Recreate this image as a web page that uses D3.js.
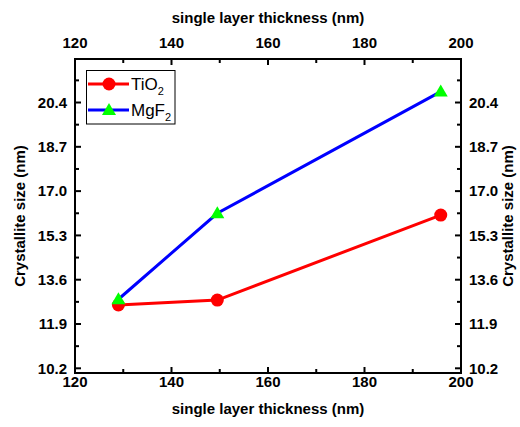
<!DOCTYPE html>
<html>
<head>
<meta charset="utf-8">
<script src="https://cdn.jsdelivr.net/npm/d3@7"></script>
<style>
  body { margin: 0; background: #fff; }
  svg text { font-family: "Liberation Sans", Arial, sans-serif; }
</style>
</head>
<body>
<svg width="520" height="427"></svg>
<script>
var thickness = [129, 149.5, 195.8];
var tio2 = [12.63, 12.82, 16.08];
var mgf2 = [12.85, 16.15, 20.82];
var yTicks = [10.2, 11.9, 13.6, 15.3, 17.0, 18.7, 20.4];
var xTicks = [120, 140, 160, 180, 200];

var svg = d3.select('svg');
var pLeft = 75, pRight = 461, pTop = 59, pBottom = 373;

var x = d3.scaleLinear().domain([120, 200]).range([pLeft, pRight]);
var y = d3.scaleLinear().domain([10.02, 22.07]).range([pBottom, pTop]);

var xMinor = d3.range(130, 200, 20);
var yMinor = d3.range(0, 7).map(i => 11.05 + i * 1.7);

// ticks point inward on all four sides
function axisTicks(g, orient) {
  var big = 6, small = 4;
  if (orient === 'bottom' || orient === 'top') {
    var y0 = orient === 'bottom' ? pBottom : pTop;
    var dir = orient === 'bottom' ? -1 : 1;
    xTicks.forEach(v => g.append('line').attr('x1', x(v)).attr('x2', x(v)).attr('y1', y0).attr('y2', y0 + dir * big));
    xMinor.forEach(v => g.append('line').attr('x1', x(v)).attr('x2', x(v)).attr('y1', y0).attr('y2', y0 + dir * small));
  } else {
    var x0 = orient === 'left' ? pLeft : pRight;
    var dir = orient === 'left' ? 1 : -1;
    yTicks.forEach(v => g.append('line').attr('y1', y(v)).attr('y2', y(v)).attr('x1', x0).attr('x2', x0 + dir * big));
    yMinor.forEach(v => g.append('line').attr('y1', y(v)).attr('y2', y(v)).attr('x1', x0).attr('x2', x0 + dir * small));
  }
}

var tg = svg.append('g').attr('stroke', '#000').attr('stroke-width', 2);
['bottom', 'top', 'left', 'right'].forEach(o => axisTicks(tg, o));

svg.append('rect')
    .attr('x', pLeft).attr('y', pTop)
    .attr('width', pRight - pLeft).attr('height', pBottom - pTop)
    .attr('fill', 'none').attr('stroke', '#000').attr('stroke-width', 2);

// tick labels
var fmt = d3.format('.1f');
xTicks.forEach(function(v) {
  svg.append('text').text(v).attr('x', x(v)).attr('y', pBottom + 9).attr('dy', '0.35em')
      .attr('text-anchor', 'middle').attr('font-weight', 'bold').attr('font-size', 15);
  svg.append('text').text(v).attr('x', x(v)).attr('y', 43).attr('dy', '0.35em')
      .attr('text-anchor', 'middle').attr('font-weight', 'bold').attr('font-size', 15);
});
yTicks.forEach(function(v) {
  svg.append('text').text(fmt(v)).attr('x', pLeft - 8).attr('y', y(v)).attr('dy', '0.35em')
      .attr('text-anchor', 'end').attr('font-weight', 'bold').attr('font-size', 15);
  svg.append('text').text(fmt(v)).attr('x', pRight + 8).attr('y', y(v)).attr('dy', '0.35em')
      .attr('text-anchor', 'start').attr('font-weight', 'bold').attr('font-size', 15);
});

// axis titles
svg.append('text').text('single layer thickness (nm)')
    .attr('x', (pLeft + pRight) / 2).attr('y', 409).attr('dy', '0.35em')
    .attr('text-anchor', 'middle').attr('font-weight', 'bold').attr('font-size', 15);
svg.append('text').text('single layer thickness (nm)')
    .attr('x', (pLeft + pRight) / 2).attr('y', 18).attr('dy', '0.35em')
    .attr('text-anchor', 'middle').attr('font-weight', 'bold').attr('font-size', 15);
svg.append('text').text('Crystallite size (nm)')
    .attr('transform', 'translate(20,' + (pTop + pBottom) / 2 + ') rotate(-90)')
    .attr('dy', '0.35em')
    .attr('text-anchor', 'middle').attr('font-weight', 'bold').attr('font-size', 15);
svg.append('text').text('Crystallite size (nm)')
    .attr('transform', 'translate(508,' + (pTop + pBottom) / 2 + ') rotate(-90)')
    .attr('dy', '0.35em')
    .attr('text-anchor', 'middle').attr('font-weight', 'bold').attr('font-size', 15);

// series
var line = d3.line().x(d => x(d[0])).y(d => y(d[1]));
var tioPts = thickness.map((t, i) => [t, tio2[i]]);
var mgPts = thickness.map((t, i) => [t, mgf2[i]]);

svg.append('path').datum(mgPts).attr('d', line)
    .attr('fill', 'none').attr('stroke', '#0000ff').attr('stroke-width', 3);
svg.append('path').datum(tioPts).attr('d', line)
    .attr('fill', 'none').attr('stroke', '#ff0000').attr('stroke-width', 3);

var tri = d3.symbol().type(d3.symbolTriangle).size(85);
svg.selectAll('circle.tio').data(tioPts).enter().append('circle')
    .attr('cx', d => x(d[0])).attr('cy', d => y(d[1])).attr('r', 6.5).attr('fill', '#ff0000');
svg.selectAll('path.mg').data(mgPts).enter().append('path')
    .attr('d', tri).attr('transform', d => 'translate(' + x(d[0]) + ',' + (y(d[1]) + 1) + ')')
    .attr('fill', '#00ff00');

// legend
var lg = svg.append('g');
lg.append('rect').attr('x', 86.5).attr('y', 70.5).attr('width', 88.5).attr('height', 53.5)
    .attr('fill', '#fff').attr('stroke', '#000').attr('stroke-width', 1);
var items = [
  { name: 'TiO', sub: '2', color: '#ff0000', sym: 'circle', yy: 84 },
  { name: 'MgF', sub: '2', color: '#0000ff', sym: 'tri', yy: 110 }
];
items.forEach(function(it) {
  lg.append('line').attr('x1', 88).attr('x2', 129).attr('y1', it.yy).attr('y2', it.yy)
      .attr('stroke', it.color).attr('stroke-width', 3);
  if (it.sym === 'circle') {
    lg.append('circle').attr('cx', 109).attr('cy', it.yy).attr('r', 6.5).attr('fill', '#ff0000');
  } else {
    lg.append('path').attr('d', tri).attr('transform', 'translate(109,' + (it.yy + 1) + ')').attr('fill', '#00ff00');
  }
  var t = lg.append('text').attr('x', 131).attr('y', it.yy).attr('dy', '0.35em').attr('font-size', 17);
  t.append('tspan').text(it.name);
  t.append('tspan').text(it.sub).attr('font-size', 11).attr('dy', '0.45em');
});
</script>
</body>
</html>
